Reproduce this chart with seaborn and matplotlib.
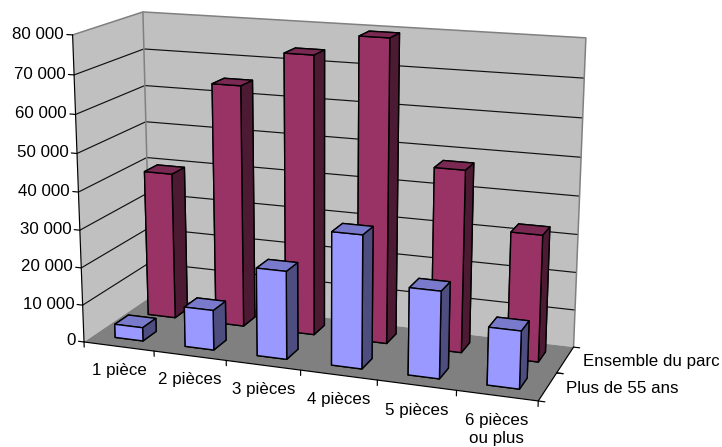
import numpy as np
import matplotlib
matplotlib.use("Agg")
import matplotlib.pyplot as plt
import seaborn as sns
from mpl_toolkits.mplot3d import proj3d
from mpl_toolkits.mplot3d.art3d import Poly3DCollection

categories = ["1 pièce", "2 pièces", "3 pièces", "4 pièces", "5 pièces", "6 pièces\nou plus"]
series_names = ["Plus de 55 ans", "Ensemble du parc"]
plus_55 = [3600, 10600, 23100, 34500, 22400, 14700]
ensemble = [39800, 64800, 74000, 79500, 47700, 33000]
z_ticks = [0, 10000, 20000, 30000, 40000, 50000, 60000, 70000, 80000]
z_labels = ["0", "10 000", "20 000", "30 000", "40 000", "50 000", "60 000", "70 000", "80 000"]

sns.set_theme(style="white", rc={"text.color": "black"})
plt.rcParams["font.family"] = ["Liberation Sans", "DejaVu Sans"]
palette = sns.color_palette(["#9999ff", "#993366"])


def tons(col):
    # couleurs des faces : dessus, avant, cote
    col = np.array(col)
    return tuple(col * 0.8), tuple(col), tuple(col * 0.5)


W, H = 722, 447
fig = plt.figure(figsize=(W / 100, H / 100), dpi=100)
ax = fig.add_axes([0, 0, 1, 1], projection="3d", computed_zorder=False)
ax.set_axis_off()
ax.set_xlim(0, 6)
ax.set_ylim(0, 2)
ax.set_zlim(0, 80000)
ax.view_init(elev=14.78, azim=-70.14, roll=-0.066)
ax.set_proj_type("persp", focal_length=0.551)
ax.set_box_aspect((1, 0.3306, 0.6692))

# calage de la perspective sur l'image
s, tx, ty = 3116.66, 328.03, 252.90
vl = ax.viewLim
ax.set_position([(s * vl.x0 + tx) / W, (s * vl.y0 + ty) / H,
                 s * (vl.x1 - vl.x0) / W, s * (vl.y1 - vl.y0) / H])


def texte(x, y, z, label, **kw):
    # texte 2D place au point projete
    vx, vy, _ = proj3d.proj_transform(x, y, z, ax.get_proj())
    ax.text2D(vx, vy, label, transform=ax.transData, fontsize=12.2, **kw)


zmax = z_ticks[-1]
walls = Poly3DCollection([[(0, 0, 0), (0, 2, 0), (0, 2, zmax), (0, 0, zmax)],
                          [(0, 2, 0), (6, 2, 0), (6, 2, zmax), (0, 2, zmax)]],
                         facecolors="#c0c0c0", edgecolors="none", zorder=1)
ax.add_collection3d(walls, autolim=False)
floor = Poly3DCollection([[(0, 0, 0), (6, 0, 0), (6, 2, 0), (0, 2, 0)]],
                         facecolors="#808080", edgecolors="none", zorder=1)
ax.add_collection3d(floor, autolim=False)

# grille sur les deux murs
for z in z_ticks[1:-1]:
    ax.plot([0, 0, 6], [0, 2, 2], [z, z, z], color="#111111", lw=0.85, zorder=2)
# bords gris des murs
ax.plot([0, 0, 6, 6], [0, 2, 2, 2], [zmax, zmax, zmax, 0], color="#808080", lw=1.1, zorder=2)
ax.plot([0, 0], [2, 2], [0, zmax], color="#808080", lw=1.1, zorder=2)

# axes noirs
ax.plot([0, 0], [0, 0], [0, zmax], color="black", lw=0.85, zorder=3)
ax.plot([0, 6, 6], [0, 0, 2], [0, 0, 0], color="black", lw=0.85, zorder=3)

for z, lab in zip(z_ticks, z_labels):
    ax.plot([-0.08, 0], [0, 0], [z, z], color="black", lw=0.85, zorder=3)
    texte(-0.12, 0, z, lab, ha="right", va="center")

for i in range(7):
    ax.plot([i, i], [0, 0], [-1400, 0], color="black", lw=0.85, zorder=3)
for i, lab in enumerate(categories):
    texte(i + 0.5, 0, -4500, lab, ha="center", va="top", linespacing=1.25)

for j, name in enumerate(series_names):
    ax.plot([6, 6.08], [j + 1, j + 1], [0, 0], color="black", lw=0.85, zorder=3)
    ax.plot([6, 6.08], [j, j], [0, 0], color="black", lw=0.85, zorder=3)
    texte(6.22, j + 0.5, 200, name, ha="left", va="center")

# barres : le rang du fond d'abord
largeur = 0.4
for j, valeurs in reversed(list(enumerate([plus_55, ensemble]))):
    dessus, avant, cote = tons(palette[j])
    # ordre des faces de bar3d : -z, +z, -y, +y, -x, +x
    faces = [dessus, dessus, avant, avant, cote, cote]
    for i, v in enumerate(valeurs):
        ax.bar3d(i + 0.3, j + 0.3, 0, largeur, largeur, v, color=faces, shade=False,
                 edgecolor="black", linewidth=1.0, zorder=10 + (1 - j) * 10 + i)

fig.savefig("out.png", dpi=100)
